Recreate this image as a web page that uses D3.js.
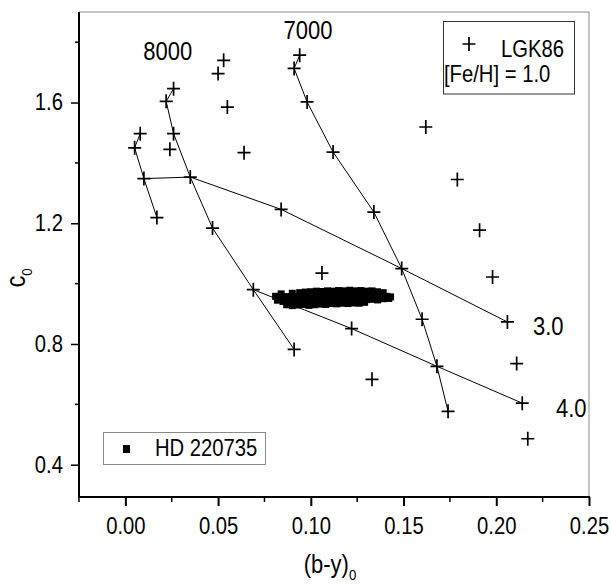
<!DOCTYPE html>
<html>
<head>
<meta charset="utf-8">
<script src="https://cdn.jsdelivr.net/npm/d3@7/dist/d3.min.js"></script>
<style>
  html, body { margin: 0; padding: 0; background: #fff; }
  svg { display: block; }
  text { font-family: "Liberation Sans", Arial, sans-serif; fill: #000; }
</style>
</head>
<body>
<svg id="chart" width="611" height="585"></svg>
<script>
// ---------- DATA ----------
// LGK86 grid points, [Fe/H] = 1.0  ((b-y)0, c0)
const gridX = [0.008, 0.005, 0.010, 0.017, 0.022, 0.026, 0.026, 0.024, 0.035, 0.047,
               0.069, 0.091, 0.050, 0.053, 0.055, 0.064, 0.084, 0.091, 0.094, 0.098,
               0.112, 0.134, 0.149, 0.160, 0.168, 0.174, 0.122, 0.206, 0.214, 0.162,
               0.179, 0.191, 0.198, 0.211, 0.217, 0.106, 0.133];
const gridY = [1.497, 1.450, 1.348, 1.219, 1.604, 1.646, 1.497, 1.445, 1.353, 1.184,
               0.980, 0.782, 1.696, 1.740, 1.585, 1.434, 1.246, 1.713, 1.757, 1.602,
               1.436, 1.237, 1.050, 0.882, 0.726, 0.577, 0.851, 0.873, 0.604, 1.519,
               1.345, 1.177, 1.022, 0.735, 0.486, 1.035, 0.683];

// Connected tracks (indices into grid arrays)
const trackLeft  = [0, 1, 2, 3];
const track8000  = [5, 4, 6, 8, 9, 10, 11];
const track7000  = [18, 17, 19, 20, 21, 22, 23, 24, 25];
const trackLogg3 = [2, 8, 16, 22, 27];
const trackLogg4 = [10, 26, 24, 28];
const tracks = [trackLeft, track8000, track7000, trackLogg3, trackLogg4];

// Annotations on the tracks
const annoText = ["8000", "7000", "3.0", "4.0"];
const annoX    = [0.0228, 0.0985, 0.2198, 0.2322];
const annoY    = [1.740, 1.812, 0.829, 0.558];
const annoAnchor = ["middle", "middle", "start", "start"];

// HD 220735 observations
const blobX = [
  0.084,0.090,0.094,0.097,0.100,0.103,0.106,0.109,0.112,0.115,0.118,0.121,0.124,0.127,0.130,0.133,0.136,0.139,
  0.081,0.084,0.087,0.090,0.093,0.096,0.099,0.102,0.105,0.108,0.111,0.114,0.117,0.120,0.123,0.126,0.129,0.132,0.135,0.138,0.141,0.143,
  0.082,0.085,0.088,0.091,0.094,0.097,0.100,0.103,0.106,0.109,0.112,0.115,0.118,0.121,0.124,0.127,0.130,0.133,0.136,0.139,0.142,
  0.087,0.090,0.093,0.096,0.099,0.102,0.105,0.108,0.111,0.114,0.117,0.120,0.123,0.126,0.129];
const blobY = [
  0.966,0.968,0.970,0.972,0.973,0.975,0.974,0.976,0.975,0.977,0.976,0.978,0.976,0.977,0.975,0.976,0.973,0.970,
  0.958,0.955,0.957,0.956,0.958,0.957,0.960,0.958,0.961,0.959,0.962,0.960,0.961,0.963,0.960,0.962,0.961,0.963,0.960,0.959,0.958,0.956,
  0.945,0.941,0.939,0.940,0.942,0.941,0.944,0.943,0.945,0.944,0.946,0.945,0.947,0.945,0.948,0.946,0.947,0.948,0.946,0.950,0.951,
  0.930,0.927,0.929,0.931,0.928,0.930,0.932,0.931,0.934,0.933,0.935,0.934,0.936,0.935,0.938];

// Axis ticks
const xMajorTicks = [0.00, 0.05, 0.10, 0.15, 0.20, 0.25];
const xTickLabels = ["0.00", "0.05", "0.10", "0.15", "0.20", "0.25"];
const xMinorTicks = [-0.025, 0.025, 0.075, 0.125, 0.175, 0.225];
const yMajorTicks = [0.4, 0.8, 1.2, 1.6];
const yTickLabels = ["0.4", "0.8", "1.2", "1.6"];
const yMinorTicks = [0.6, 1.0, 1.4, 1.8];

// ---------- DRAW ----------
const svg = d3.select("#chart");
const L = 79, R = 589, T = 12, B = 497;
const x = d3.scaleLinear().domain([-0.025, 0.25]).range([L, R]);
const y = d3.scaleLinear().domain([0.293, 1.9]).range([B, T]);

const SX = 0.88;
const FS = 23;
function txt(g, s, px, py, size, anchor) {
  return g.append("text")
    .attr("transform", `translate(${px},${py}) scale(${SX},1)`)
    .attr("font-size", size)
    .attr("text-anchor", anchor || "start")
    .text(s);
}

// frame (top & right, grey)
svg.append("path")
  .attr("d", `M${L},${T}H${R}V${B}`)
  .attr("fill", "none").attr("stroke", "#8a8a8a").attr("stroke-width", 1);

// tracks
const line = d3.line().x(i => x(gridX[i])).y(i => y(gridY[i]));
svg.append("g").selectAll("path").data(tracks).join("path")
  .attr("d", line).attr("fill", "none").attr("stroke", "#000").attr("stroke-width", 1);

// HD 220735 squares
svg.append("g").selectAll("rect").data(blobX.map((v, i) => [v, blobY[i]])).join("rect")
  .attr("x", d => x(d[0]) - 3.5).attr("y", d => y(d[1]) - 3.5)
  .attr("width", 7).attr("height", 7).attr("fill", "#000");

// crosses
const cross = "M-6.5,0H6.5M0,-7V7";
svg.append("g").selectAll("path").data(gridX.map((v, i) => [v, gridY[i]])).join("path")
  .attr("transform", d => `translate(${x(d[0])},${y(d[1])})`)
  .attr("d", cross).attr("stroke", "#000").attr("stroke-width", 1.7).attr("fill", "none");

// annotations
annoText.forEach((s, i) => txt(svg, s, x(annoX[i]), y(annoY[i]), 25, annoAnchor[i]));

// x axis
const xAxisMajor = d3.axisBottom(x).tickValues(xMajorTicks).tickSize(9)
  .tickFormat((d, i) => xTickLabels[i]).tickPadding(8);
const gx = svg.append("g").attr("transform", `translate(0,${B})`).call(xAxisMajor);
gx.select(".domain").remove();
gx.selectAll(".tick line").attr("stroke", "#000").attr("stroke-width", 2);
gx.selectAll(".tick text").attr("font-size", FS)
  .attr("font-family", "Liberation Sans, Arial, sans-serif")
  .attr("transform", `scale(${SX},1)`).attr("dy", "0.88em");
svg.append("g").selectAll("line").data(xMinorTicks).join("line")
  .attr("x1", d => x(d)).attr("x2", d => x(d)).attr("y1", B).attr("y2", B + 5)
  .attr("stroke", "#000").attr("stroke-width", 1.5);
svg.append("line").attr("x1", L - 1).attr("x2", R + 1).attr("y1", B).attr("y2", B)
  .attr("stroke", "#000").attr("stroke-width", 2);

// y axis
const yAxisMajor = d3.axisLeft(y).tickValues(yMajorTicks).tickSize(8)
  .tickFormat((d, i) => yTickLabels[i]).tickPadding(8);
const gy = svg.append("g").attr("transform", `translate(${L},0)`).call(yAxisMajor);
gy.select(".domain").remove();
gy.selectAll(".tick line").attr("stroke", "#000").attr("stroke-width", 1.5);
gy.selectAll(".tick text").attr("font-size", FS)
  .attr("font-family", "Liberation Sans, Arial, sans-serif")
  .each(function() {
    const t = d3.select(this);
    const xx = +t.attr("x");
    t.attr("x", null).attr("transform", `translate(${xx},0) scale(${SX},1)`);
  });
svg.append("g").selectAll("line").data(yMinorTicks).join("line")
  .attr("x1", L - 4).attr("x2", L).attr("y1", d => y(d)).attr("y2", d => y(d))
  .attr("stroke", "#000").attr("stroke-width", 1.5);
svg.append("line").attr("x1", L).attr("x2", L).attr("y1", T).attr("y2", B + 1)
  .attr("stroke", "#000").attr("stroke-width", 2);

// axis titles
const xt = svg.append("text")
  .attr("transform", `translate(330,573) scale(${SX},1)`)
  .attr("text-anchor", "middle").attr("font-size", 25);
xt.append("tspan").text("(b-y)");
xt.append("tspan").attr("font-size", 15).attr("dy", 7).text("0");

const yt = svg.append("text")
  .attr("transform", `translate(25,278) rotate(-90) scale(${SX},1)`)
  .attr("text-anchor", "middle").attr("font-size", 27);
yt.append("tspan").text("c");
yt.append("tspan").attr("font-size", 15).attr("dy", 7).text("0");

// legend: LGK86
svg.append("rect").attr("x", 443.5).attr("y", 21.5).attr("width", 131).attr("height", 72.5)
  .attr("fill", "#fff").attr("stroke", "#333").attr("stroke-width", 1);
svg.append("path").attr("transform", "translate(469,44)").attr("d", cross)
  .attr("stroke", "#000").attr("stroke-width", 1.7);
txt(svg, "LGK86", 501, 57, FS, "start");
txt(svg, "[Fe/H] = 1.0", 444, 82, FS, "start");

// legend: HD 220735
svg.append("rect").attr("x", 103.5).attr("y", 432.5).attr("width", 162).attr("height", 32)
  .attr("fill", "#fff").attr("stroke", "#8a8a8a").attr("stroke-width", 1);
svg.append("rect").attr("x", 123).attr("y", 445).attr("width", 7).attr("height", 8).attr("fill", "#000");
txt(svg, "HD 220735", 155, 456, FS, "start");
</script>
</body>
</html>
